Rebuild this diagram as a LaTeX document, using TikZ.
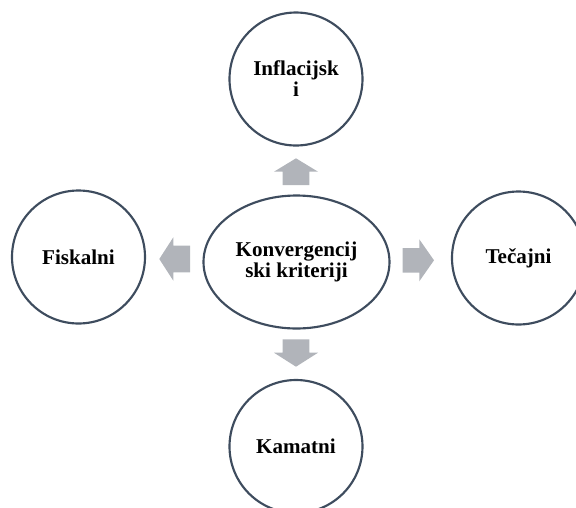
\documentclass[tikz,border=0pt]{standalone}
\usepackage{fontspec}
\setmainfont{Liberation Serif}
\usetikzlibrary{shapes.geometric}
\definecolor{rub}{HTML}{3E4C5E}
\definecolor{siva}{HTML}{B1B4BA}
\begin{document}
\begin{tikzpicture}[x=0.75pt,y=-0.75pt,
krug/.style={circle,draw=rub,line width=1.6pt,minimum size=133*0.75pt,inner sep=0pt,align=center,font=\fontsize{15.8}{15.8}\selectfont\bfseries},
strelica/.style={fill=siva}]
\useasboundingbox (0,0) rectangle (576,508);
\clip (0,0) rectangle (576,508);

\node[krug,ellipse,minimum width=186*0.75pt,minimum height=133*0.75pt] (krit) at (296.5,262) {Konvergencij\\ski kriteriji};
\node[krug] (infl) at (296,79) {Inflacijsk\\i};
\node[krug] (fisk) at (78.5,257) {Fiskalni};
\node[krug] (tec) at (518.5,258) {Tečajni};
\node[krug] (kam) at (296,446.5) {Kamatni};

% strelice
\fill[strelica] (282.7,185) -- (282.7,171.7) -- (274,171.7) -- (296,158.3) -- (318,171.7) -- (309.3,171.7) -- (309.3,185) -- cycle;
\fill[strelica] (282.7,339.3) -- (282.7,352.7) -- (274,352.7) -- (296,366.7) -- (318,352.7) -- (309.3,352.7) -- (309.3,339.3) -- cycle;
\fill[strelica] (190,245.7) -- (173.3,245.7) -- (173.3,237.3) -- (159.3,259) -- (173.3,280.7) -- (173.3,272.3) -- (190,272.3) -- cycle;
\fill[strelica] (402.7,248) -- (419.3,248) -- (419.3,239.3) -- (434,260.3) -- (419.3,281.3) -- (419.3,272.7) -- (402.7,272.7) -- cycle;

\end{tikzpicture}
\end{document}
